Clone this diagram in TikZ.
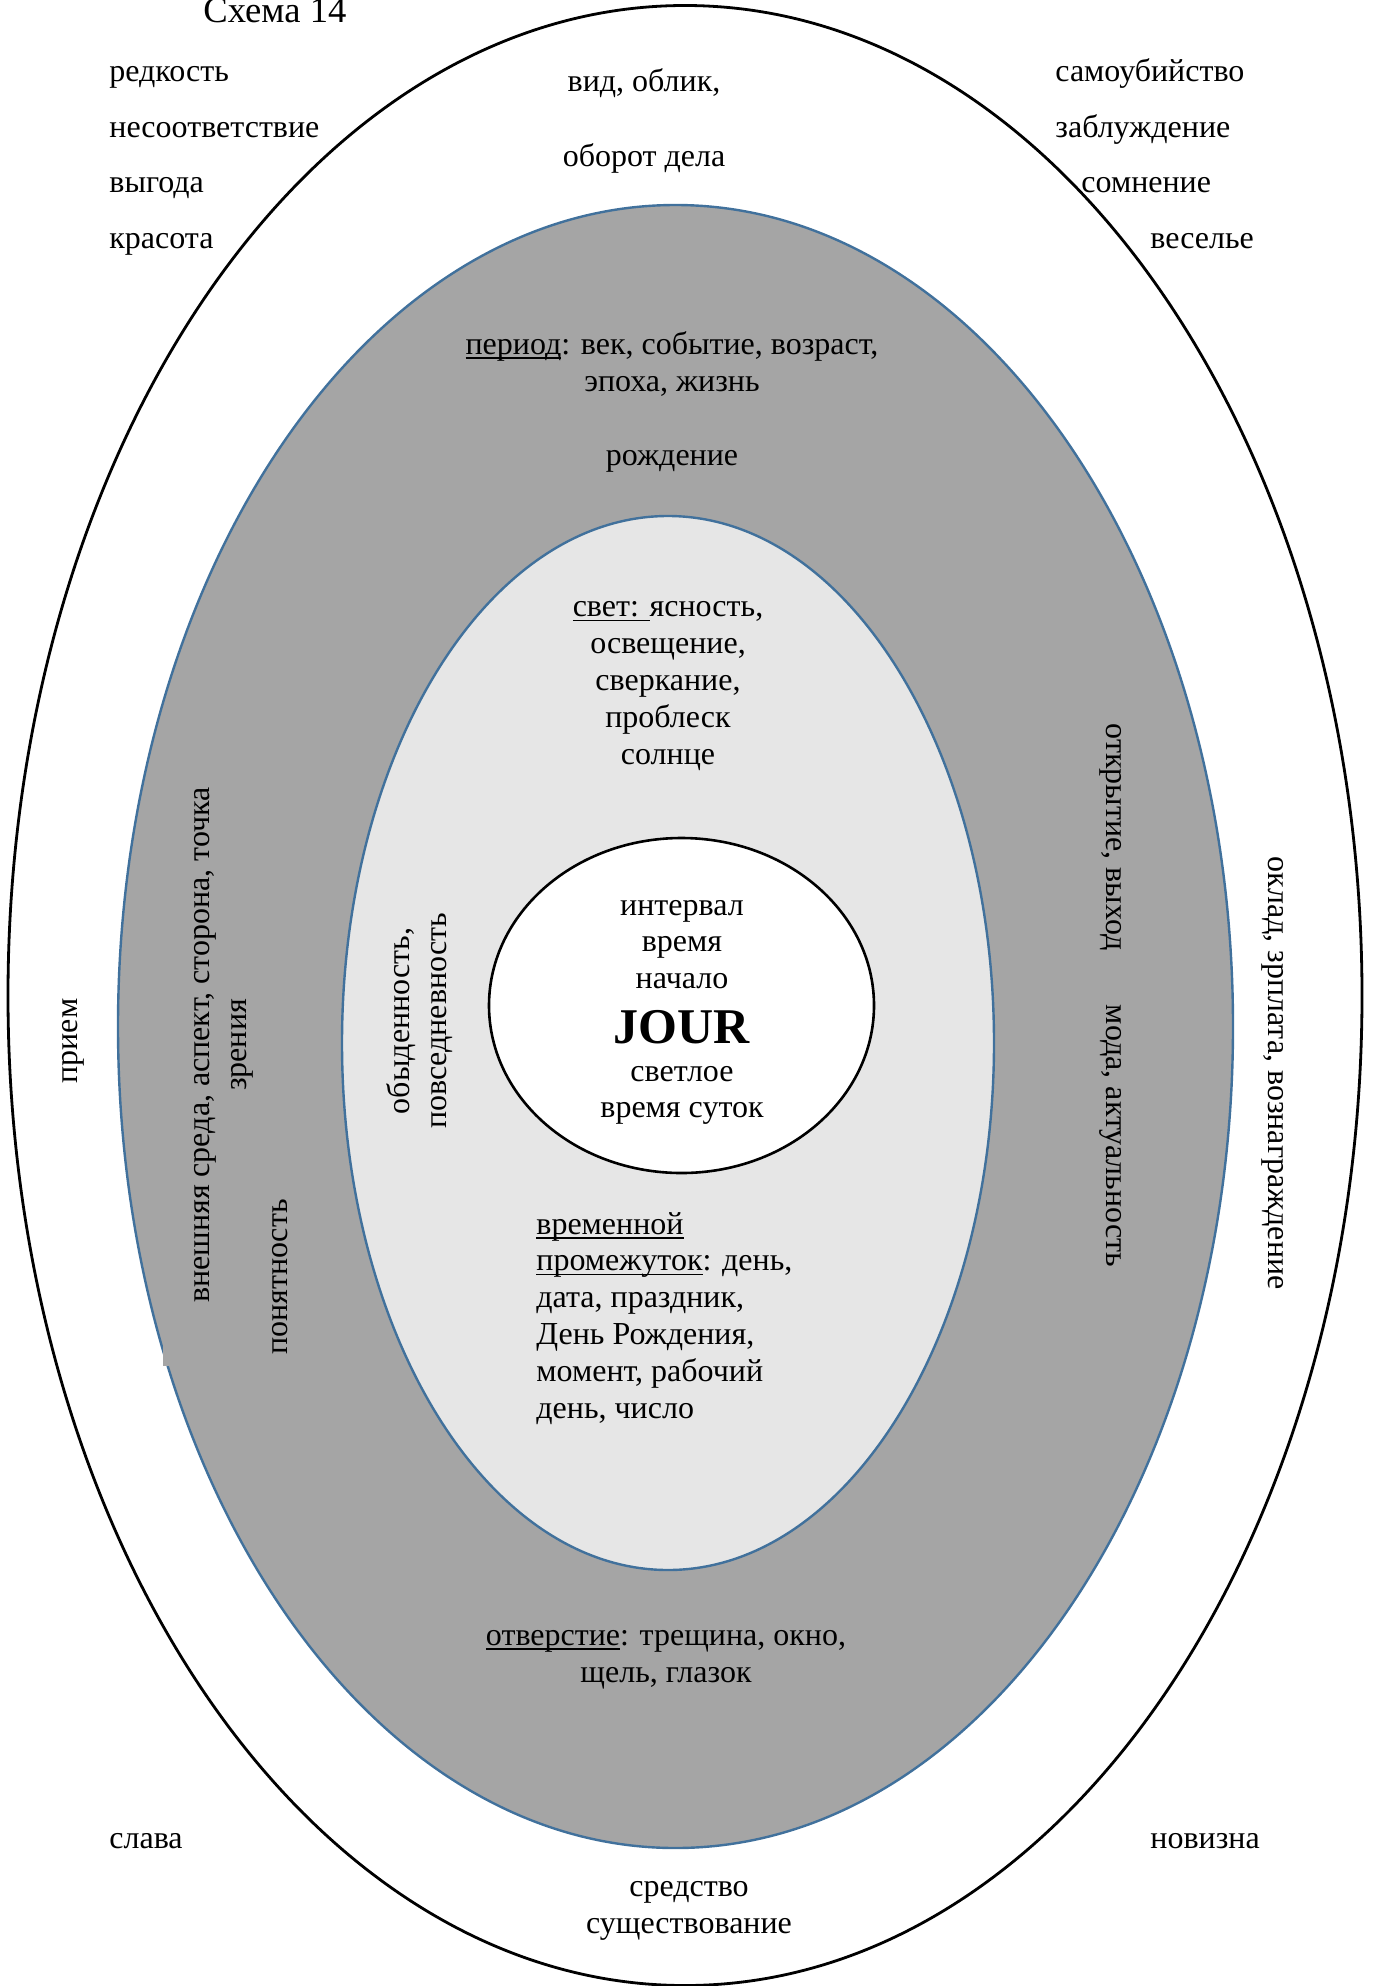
\documentclass[tikz,border=0pt]{standalone}
\usepackage{fontspec}
\setmainfont{Liberation Serif}

\definecolor{ringgray}{RGB}{165,165,165}
\definecolor{coregray}{RGB}{230,230,230}
\definecolor{rimblue}{RGB}{65,113,156}

% underline slightly thicker than the default rule
\newcommand\undl[1]{\setbox0\hbox{#1}\rlap{\rule[-2.3pt]{\wd0}{0.9pt}}\box0}

% multi-line nodes are placed by the baseline of their last line
\tikzset{
  word/.style={inner sep=0pt, font=\fontsize{16}{18.4}\selectfont},
  lword/.style={word, anchor=base west, align=left},
  cword/.style={word, anchor=base, align=center},
  upword/.style={word, rotate=90, align=center},
  downword/.style={word, rotate=-90, align=center},
  outerrim/.style={draw=black, line width=1.4pt},
  bluerim/.style={draw=rimblue, line width=1.2pt},
}

\begin{document}
\begin{tikzpicture}[x=0.5pt, y=-0.5pt]
\useasboundingbox (0,0) rectangle (1372,1986);

% nested ellipses
\path[outerrim, fill=white] (685,995.5) ellipse [x radius=677, y radius=990];
\path[bluerim, fill=ringgray] (675.5,1026.5) ellipse [x radius=557.5, y radius=821.5];
\fill[ringgray] (163,1345) rectangle (176,1366);
\path[bluerim, fill=coregray] (668,1043) ellipse [x radius=326, y radius=527];
\path[outerrim, line width=1.3pt, fill=white] (681.5,1005.5) ellipse [x radius=192.5, y radius=167.5];

% title
\node[lword, font=\fontsize{18.3}{21}\selectfont] (title) at (203,23) {Схема 14};

% outer corners
\node[lword] (w1) at (109,81) {редкость};
\node[lword] (w2) at (109,137) {несоответствие};
\node[lword] (w3) at (109,192) {выгода};
\node[lword] (w4) at (109,248) {красота};
\node[lword] (e1) at (1055,81) {самоубийство};
\node[lword] (e2) at (1055,137) {заблуждение};
\node[lword] (e3) at (1081,192) {сомнение};
\node[lword] (e4) at (1150,248) {веселье};
\node[lword] (sw) at (109,1848) {слава};
\node[lword] (se) at (1150,1848) {новизна};

% outer ring
\node[cword] (top1) at (644,91) {вид, облик,};
\node[cword] (top2) at (644,166) {оборот дела};
\node[cword] (bot) at (689,1933) {средство\\существование};
\node[upword] (left) at (73,1041) {прием};
\node[downword] (right) at (1273,1073) {оклад, зрплата, вознаграждение};

% gray ring
\node[cword] (period) at (672,391) {\undl{период}: век, событие, возраст,\\эпоха, жизнь};
\node[cword] (birth) at (672,465) {рождение};
\node[cword] (hole) at (666,1682) {\undl{отверстие}: трещина, окно,\\щель, глазок};
\node[upword] (aspect) at (224,1045) {внешняя среда, аспект, сторона, точка\\зрения};
\node[upword] (clear) at (280,1277) {понятность};
\node[downword] (open) at (1111,837) {открытие, выход};
\node[downword] (fashion) at (1111,1136) {мода, актуальность};

% light core
\node[cword] (light) at (668,764) {\undl{свет: }ясность,\\освещение,\\сверкание,\\проблеск\\солнце};
\node[upword] (daily) at (420,1021) {обыденность,\\повседневность};
\node[lword] (span) at (536,1418) {\undl{временной}\\\undl{промежуток}: день,\\дата, праздник,\\День Рождения,\\момент, рабочий\\день, число};

% centre
\node[cword] (c1) at (682,915) {интервал};
\node[cword] (c2) at (682,951) {время};
\node[cword] (c3) at (682,988) {начало};
\node[cword, font=\fontsize{25}{28.8}\selectfont\bfseries] (jour) at (682,1043) {JOUR};
\node[cword] (c4) at (682,1081) {светлое};
\node[cword] (c5) at (682,1117) {время суток};
\end{tikzpicture}
\end{document}
